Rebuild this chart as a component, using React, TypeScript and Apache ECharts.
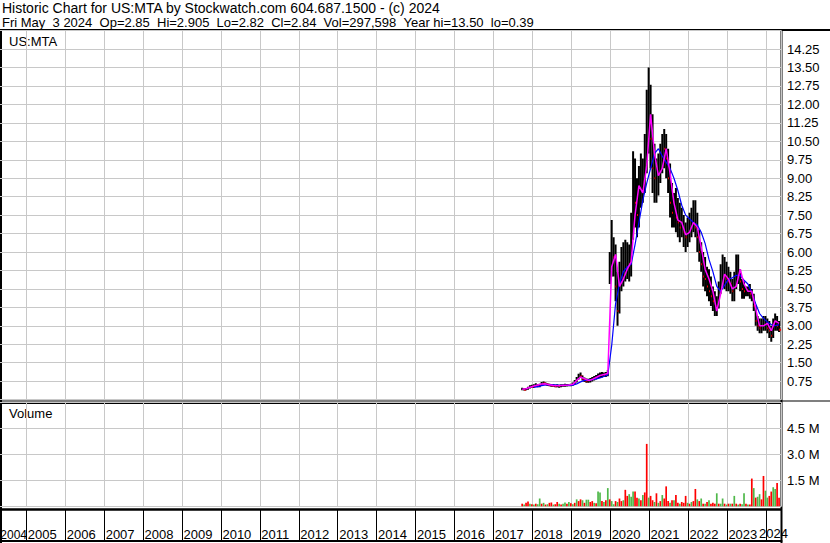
import React, { useEffect, useRef } from "react";
import * as echarts from "echarts";

// ---------- data ----------
// one sample every STEP years starting at START (decimal year)
const START = 2017.74;
const STEP = 0.05;

const priceHigh = [
  0.48, 0.46, 0.47, 0.52, 0.58, 0.6, 0.62, 0.66, 0.62, 0.64,
  0.72, 0.74, 0.7, 0.66, 0.64, 0.62, 0.62, 0.6, 0.62, 0.6,
  0.62, 0.62, 0.64, 0.63, 0.62, 0.64, 0.7, 0.8, 0.92, 1.05,
  1.1, 0.98, 0.9, 0.86, 0.85, 0.88, 0.92, 0.96, 1.0, 1.06,
  1.1, 1.12, 1.1, 1.12, 1.2,
  6.0, 7.3, 6.6, 6.3, 5.2,
  5.6, 6.2, 6.4, 6.5, 6.4, 6.3, 7.6, 10.1, 9.8, 9.0,
  9.5, 10.0, 9.8, 10.8, 12.6, 13.5, 12.8, 11.6, 10.4, 9.8,
  10.0, 10.4, 10.8, 11.0, 10.8, 10.2, 9.6, 8.8, 8.4, 8.6,
  8.2, 8.0, 7.8, 7.5, 7.2, 7.4, 7.6, 7.8, 8.1, 8.1,
  7.6, 6.9, 6.4, 6.0, 5.8, 5.4, 5.3, 5.0, 4.6, 4.4,
  4.2, 4.8, 5.5, 5.9, 5.8, 5.6, 5.4, 5.2, 4.9, 5.2,
  5.9, 5.9, 5.3, 4.9, 4.8, 4.6, 4.6, 4.7, 4.5, 4.3,
  3.8, 3.4, 3.3, 3.3, 3.4, 3.4, 3.3, 3.2, 3.0, 3.3,
  3.5, 3.4, 3.2,
];

const priceLow = [
  0.38, 0.37, 0.38, 0.4, 0.45, 0.48, 0.48, 0.52, 0.5, 0.5,
  0.56, 0.6, 0.58, 0.55, 0.54, 0.52, 0.52, 0.5, 0.5, 0.48,
  0.5, 0.52, 0.52, 0.53, 0.54, 0.54, 0.56, 0.62, 0.7, 0.82,
  0.88, 0.78, 0.72, 0.68, 0.68, 0.7, 0.74, 0.78, 0.82, 0.86,
  0.88, 0.9, 0.92, 0.92, 0.95,
  4.7, 5.0, 5.0, 4.0, 3.0,
  3.5, 4.4, 4.6, 4.8, 4.9, 4.8, 5.0, 6.5, 7.0, 6.6,
  7.0, 7.8, 8.0, 8.4, 9.2, 10.0, 9.4, 8.4, 8.0, 8.0,
  8.3, 8.8, 9.2, 9.4, 9.0, 8.4, 7.4, 7.0, 7.0, 6.8,
  6.6, 6.4, 6.6, 6.2, 6.0, 6.2, 6.4, 6.6, 6.8, 6.6,
  6.0, 5.6, 5.2, 4.6, 4.4, 4.2, 4.0, 3.8, 3.6, 3.4,
  3.4, 3.7, 4.3, 4.6, 4.5, 4.4, 4.4, 4.3, 4.0, 4.0,
  4.5, 4.7, 4.4, 4.1, 4.1, 4.2, 4.2, 4.1, 4.0, 3.6,
  3.0, 2.8, 2.7, 2.7, 2.8, 2.8, 2.7, 2.5, 2.35, 2.5,
  2.8, 2.8, 2.75,
];

const priceClose = [
  0.42, 0.4, 0.43, 0.48, 0.55, 0.52, 0.58, 0.62, 0.55, 0.6,
  0.68, 0.66, 0.62, 0.6, 0.58, 0.57, 0.56, 0.54, 0.56, 0.55,
  0.57, 0.58, 0.58, 0.58, 0.59, 0.6, 0.66, 0.76, 0.86, 0.98,
  0.95, 0.84, 0.78, 0.75, 0.76, 0.8, 0.84, 0.88, 0.92, 0.98,
  1.02, 1.05, 1.0, 1.04, 1.1,
  5.5, 6.2, 5.8, 4.6, 3.6,
  4.8, 5.4, 5.6, 5.6, 5.7, 5.5, 6.8, 8.5, 8.0, 7.5,
  8.2, 9.0, 9.2, 10.0, 11.5, 12.2, 10.6, 9.4, 9.0, 9.2,
  9.5, 9.8, 10.3, 10.2, 9.8, 9.0, 8.0, 7.6, 7.8, 7.4,
  7.2, 7.0, 7.1, 6.8, 6.6, 7.0, 7.2, 7.3, 7.5, 7.0,
  6.6, 6.0, 5.5, 5.0, 4.9, 4.6, 4.4, 4.2, 4.0, 3.9,
  3.8, 4.4, 5.0, 5.2, 5.0, 4.9, 4.8, 4.7, 4.4, 4.6,
  5.2, 5.3, 4.8, 4.5, 4.4, 4.4, 4.4, 4.3, 4.2, 3.8,
  3.2, 3.0, 2.9, 2.9, 3.0, 3.1, 2.9, 2.8, 2.6, 2.9,
  3.2, 3.0, 2.84,
];

// volume in millions of shares, with up (g) / down (r) colouring
const volume = [
  0.15, 0.1, 0.2, 0.28, 0.15, 0.12, 0.1, 0.15, 0.12, 0.45,
  0.15, 0.2, 0.1, 0.12, 0.2, 0.22, 0.1, 0.12, 0.25, 0.15,
  0.1, 0.15, 0.22, 0.15, 0.25, 0.18, 0.12, 0.2, 0.4, 0.3,
  0.4, 0.35, 0.2, 0.38, 0.38, 0.25, 0.3, 0.2, 0.18, 0.85,
  0.8, 0.3, 0.25, 0.35, 1.05, 0.4, 0.3, 0.12, 0.3, 0.25,
  0.45, 0.3, 0.35, 0.95, 0.6, 0.7, 0.55, 0.85, 0.85, 0.5,
  0.45, 0.35, 0.65, 0.8, 3.6, 0.5, 0.6, 0.35, 0.25, 0.75,
  0.2, 0.3, 0.65, 0.45, 1.15, 0.3, 0.2, 0.35, 0.35, 0.65,
  0.2, 0.15, 0.25, 0.2, 0.6, 0.2, 0.15, 0.25, 0.3, 1.0,
  0.4, 0.3, 0.45, 0.15, 0.15, 0.25, 0.35, 0.15, 0.2, 0.15,
  0.75, 0.15, 0.15, 0.45, 0.15, 0.1, 0.15, 0.15, 0.15, 0.6,
  0.15, 0.1, 0.15, 0.12, 0.75, 0.15, 0.1, 0.1, 1.6, 1.05,
  0.5, 0.55, 0.7, 0.4, 1.75, 0.9, 0.5, 0.6, 0.85, 1.1,
  1.0, 1.35, 0.5,
];
const volumeDir =
  "rgrrgrgrgg" + "rgrgrrgrrg" + "rggrgrgrgr" + "rgrggrrgrg" + "grgrgrggrg" +
  "rrgrrgggrr" + "grgrrgrrgr" + "grgrrrgrgr" + "rgrrrgrgrr" + "grgrgrgrrr" +
  "grggrgrgrg" + "rgrggrgrrg" + "rggrrggrrg" + "grr";

// moving averages, one value every MA_STEP years
const MA_STEP = 0.1;
const maShort = [
  0.42, 0.44, 0.5, 0.55, 0.59, 0.63, 0.64, 0.6, 0.57, 0.56,
  0.57, 0.58, 0.59, 0.62, 0.78, 0.92, 0.85, 0.78, 0.82, 0.9,
  0.98, 1.02, 1.06, 5.4, 5.9, 4.6, 4.9, 5.3, 5.6, 7.5,
  8.7, 8.4, 9.5, 11.6, 10.0, 9.1, 9.4, 10.2, 9.2, 8.0,
  7.3, 7.2, 6.7, 6.8, 7.2, 7.0, 6.2, 5.3, 4.9, 4.4,
  3.6, 4.3, 5.1, 4.9, 4.5, 4.6, 5.3, 4.7, 4.4, 4.4,
  3.7, 3.0, 3.0, 3.1, 2.8, 3.2, 3.1,
];
const MA_LONG_OFFSET = 3; // long average starts three samples later
const maLong = [
  0.5, 0.53, 0.57, 0.6, 0.61, 0.6, 0.59, 0.58, 0.58, 0.58,
  0.59, 0.64, 0.72, 0.78, 0.8, 0.81, 0.84, 0.88, 0.94, 1.0,
  2.2, 3.9, 4.7, 5.2, 5.4, 5.5, 6.3, 7.2, 8.1, 8.8,
  9.4, 10.0, 10.2, 9.9, 9.65, 9.4, 9.0, 8.5, 7.9, 7.5,
  7.35, 7.2, 7.1, 6.8, 6.35, 5.7, 5.2, 4.6, 4.4, 4.65,
  4.9, 4.95, 5.05, 5.05, 4.85, 4.7, 4.35, 3.9, 3.5, 3.3,
  3.15, 3.05, 3.0, 3.05,
];

const headerLine1 = "Historic Chart for US:MTA by Stockwatch.com 604.687.1500 - (c) 2024";
const headerLine2 =
  "Fri May  3 2024  Op=2.85  Hi=2.905  Lo=2.82  Cl=2.84  Vol=297,598  Year hi=13.50  lo=0.39";

// axis ranges
const X_MIN = 2004;
const X_MAX = 2024.403;
const PRICE_MAX = 15;
const PRICE_STEP = 0.75;
const VOL_MAX = 6;
const VOL_STEP = 1.5;

// ---------- chart ----------
const FONT = '"Liberation Sans", Arial, Helvetica, sans-serif';
const GRID_LEFT = -12.6;
const GRID_RIGHT = 48.5;
const GRAY = "#C8C8C8";
const GREEN = "#4FB84A";
const keepSpaces = (s: string) => s.replace(/  /g, " \u00A0");

function buildOption() {
  const t = (i: number) => START + i * STEP;
  const ohlc = priceHigh.map((h, i) => [
    t(i),
    priceLow[i],
    h,
    priceClose[i],
    i > 0 && priceClose[i] < priceClose[i - 1] ? 1 : 0,
  ]);
  const vol = volume.map((v, i) => ({
    value: [t(i), v],
    itemStyle: { color: volumeDir[i] === "g" ? GREEN : "#FF0000" },
  }));
  const shortLine = maShort.map((v, k) => [START + k * MA_STEP, v]);
  const longLine = maLong.map((v, k) => [START + (k + MA_LONG_OFFSET) * MA_STEP, v]);

  const xCommon = {
    type: "value",
    min: X_MIN,
    max: X_MAX,
    interval: 1,
    axisLine: { show: false },
    axisTick: { show: false },
    axisLabel: { show: false },
  };

  const yearFormatter = (v: number) => {
    if (Math.abs(v - Math.round(v)) > 1e-6) return "";
    const y = Math.round(v);
    if (y === 2024) return "";
    if (y === 2004) return `{first|${y}}`;
    return `{yr|${y}}`;
  };
  const yrStyle = { fontSize: 13, fontFamily: FONT, color: "#000" };
  const gridBase = { left: GRID_LEFT, right: GRID_RIGHT, outerBoundsMode: "none", containLabel: false };

  return {
    animation: false,
    backgroundColor: "#fff",
    grid: [
      { ...gridBase, top: 30.6, height: 369 },
      { ...gridBase, top: 402.3, height: 104 },
      { ...gridBase, top: 510, height: 31 },
    ],
    xAxis: [
      { ...xCommon, gridIndex: 0, splitLine: { show: true, lineStyle: { color: GRAY, width: 1 } } },
      { ...xCommon, gridIndex: 1, splitLine: { show: true, lineStyle: { color: GRAY, width: 1 } } },
      {
        type: "value",
        gridIndex: 2,
        min: X_MIN,
        max: X_MAX,
        interval: 1,
        position: "bottom",
        axisLine: { show: true, lineStyle: { color: "#000", width: 2 } },
        axisTick: { show: true, inside: true, length: 31, lineStyle: { color: "#000", width: 1 } },
        splitLine: { show: false },
        axisLabel: {
          show: true,
          inside: true,
          margin: 0,
          align: "left",
          formatter: yearFormatter,
          rich: {
            yr: { ...yrStyle, padding: [0, 0, 0, 1.5] },
            first: { ...yrStyle, fontSize: 12, padding: [0, 0, 0, 12.9] },
          },
        },
      },
    ],
    yAxis: [
      {
        type: "value",
        gridIndex: 0,
        position: "right",
        min: 0,
        max: PRICE_MAX,
        interval: PRICE_STEP,
        axisLine: { show: false },
        axisTick: { show: false },
        splitLine: { show: true, lineStyle: { color: GRAY, width: 1 } },
        axisLabel: {
          showMinLabel: false,
          showMaxLabel: false,
          margin: 5.5,
          fontSize: 13,
          fontFamily: FONT,
          color: "#000",
          formatter: (v: number) => v.toFixed(2),
        },
      },
      {
        type: "value",
        gridIndex: 1,
        position: "right",
        min: 0,
        max: VOL_MAX,
        interval: VOL_STEP,
        axisLine: { show: false },
        axisTick: { show: false },
        splitLine: { show: true, lineStyle: { color: GRAY, width: 1 } },
        axisLabel: {
          showMinLabel: false,
          showMaxLabel: false,
          margin: 5.5,
          fontSize: 13,
          fontFamily: FONT,
          color: "#000",
          formatter: (v: number) => v.toFixed(1) + " M",
        },
      },
      { type: "value", gridIndex: 2, min: 0, max: 1, show: false },
    ],
    series: [
      {
        type: "custom",
        xAxisIndex: 0,
        yAxisIndex: 0,
        clip: true,
        encode: { x: 0, y: [1, 2, 3] },
        data: ohlc,
        renderItem: (_p: any, api: any) => {
          const x = api.value(0);
          const lo = api.coord([x, api.value(1)]);
          const hi = api.coord([x, api.value(2)]);
          const cl = api.coord([x, api.value(3)]);
          const down = api.value(4);
          const children: any[] = [
            {
              type: "rect",
              shape: { x: lo[0] - 1, y: hi[1], width: 2, height: Math.max(1.5, lo[1] - hi[1]) },
              style: { fill: "#000" },
            },
          ];
          if (down) {
            children.push({
              type: "rect",
              shape: { x: cl[0], y: cl[1] - 1, width: 2, height: 2 },
              style: { fill: "#FF0000" },
            });
          }
          return { type: "group", children };
        },
        z: 2,
      },
      {
        type: "line",
        xAxisIndex: 0,
        yAxisIndex: 0,
        data: longLine,
        showSymbol: false,
        symbol: "none",
        lineStyle: { color: "#0000FF", width: 1.2 },
        z: 3,
      },
      {
        type: "line",
        xAxisIndex: 0,
        yAxisIndex: 0,
        data: shortLine,
        showSymbol: false,
        symbol: "none",
        lineStyle: { color: "#FF00FF", width: 1.5 },
        z: 4,
      },
      {
        type: "bar",
        xAxisIndex: 1,
        yAxisIndex: 1,
        barWidth: 1.7,
        data: vol,
        z: 2,
      },
    ],
    graphic: [
      { type: "text", x: 2, y: 7.8, style: { text: headerLine1, fontSize: 14, lineHeight: 13, fontFamily: FONT, fill: "#000", verticalAlign: "middle" } },
      { type: "text", x: 2, y: 22.3, style: { text: keepSpaces(headerLine2), fontSize: 13, lineHeight: 12, fontFamily: FONT, fill: "#000", verticalAlign: "middle" } },
      { type: "text", x: 9, y: 41.6, style: { text: "US:MTA", fontSize: 13, fontFamily: FONT, fill: "#000", verticalAlign: "middle" } },
      { type: "text", x: 9, y: 413.8, style: { text: "Volume", fontSize: 13, fontFamily: FONT, fill: "#000", verticalAlign: "middle" } },
      // last year label, pushed left against the right border as in the reference
      { type: "text", x: 759, y: 540, style: { text: "2024", fontSize: 13, fontFamily: FONT, fill: "#000", verticalAlign: "bottom" } },
      { type: "line", shape: { x1: 0, y1: 30, x2: 830, y2: 30 }, style: { stroke: "#000", lineWidth: 2 } },
      { type: "line", shape: { x1: 0, y1: 401, x2: 830, y2: 401 }, style: { stroke: "#000", lineWidth: 1.2 } },
      { type: "line", shape: { x1: 0, y1: 403.4, x2: 781.5, y2: 403.4 }, style: { stroke: "#000", lineWidth: 1.2 } },
      { type: "line", shape: { x1: 0, y1: 509.6, x2: 781.5, y2: 509.6 }, style: { stroke: "#000", lineWidth: 2.5 } },
      { type: "line", shape: { x1: 1, y1: 30, x2: 1, y2: 543 }, style: { stroke: "#000", lineWidth: 2 } },
      { type: "line", shape: { x1: 781.5, y1: 30, x2: 781.5, y2: 543 }, style: { stroke: "#000", lineWidth: 2 } },
    ],
  };
}

export default function App() {
  const ref = useRef<HTMLDivElement>(null);
  useEffect(() => {
    document.body.style.margin = "0";
    const chart = echarts.init(ref.current as HTMLDivElement, null, { renderer: "svg" });
    chart.setOption(buildOption() as any);
    return () => chart.dispose();
  }, []);
  return (
    <div
      ref={ref}
      style={{ position: "absolute", left: 0, top: 0, width: 830, height: 543, background: "#fff" }}
    />
  );
}
